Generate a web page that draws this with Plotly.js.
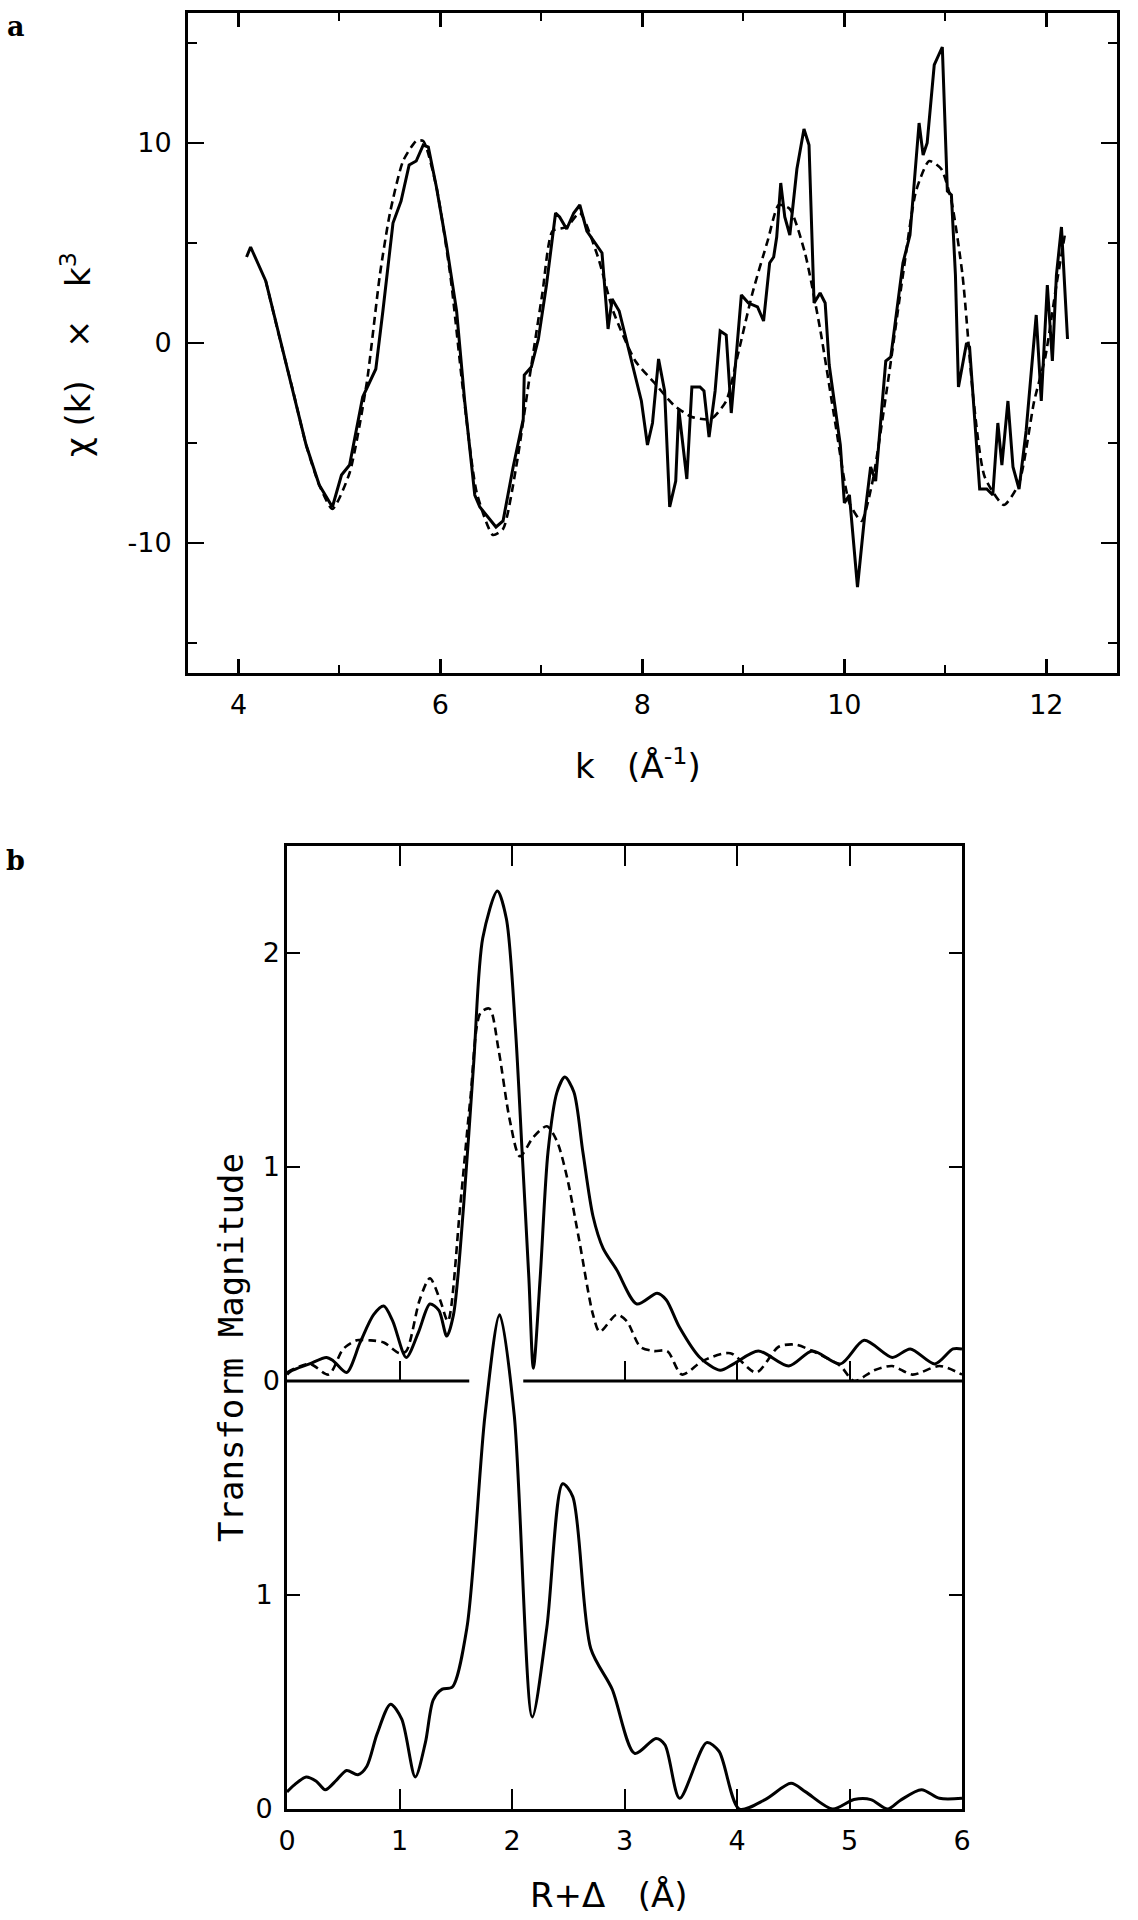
<!DOCTYPE html>
<html>
<head>
<meta charset="utf-8">
<script src="https://cdn.plot.ly/plotly-3.0.1.min.js"></script>
<style>
  html, body { margin: 0; padding: 0; background: #ffffff; }
  #chart { width: 1138px; height: 1920px; }
</style>
</head>
<body>
<div id="chart"></div>
<script>
// ---------- Panel a: chi(k) * k^3 ----------
const kExp = [4.08, 4.12, 4.27, 4.41, 4.54, 4.67, 4.80, 4.93, 5.02, 5.10, 5.23, 5.36, 5.43, 5.53, 5.61, 5.69, 5.76, 5.83, 5.88, 5.96,
  6.06, 6.16, 6.24, 6.34, 6.39, 6.55, 6.62, 6.72, 6.82, 6.83, 6.90, 6.97, 7.05, 7.14, 7.18, 7.25, 7.32, 7.38, 7.45, 7.55,
  7.60, 7.66, 7.70, 7.77, 7.88, 7.99, 8.05, 8.10, 8.16, 8.22, 8.27, 8.33, 8.36, 8.44, 8.49, 8.57, 8.61, 8.66, 8.72, 8.77,
  8.83, 8.88, 8.94, 8.98, 9.05, 9.14, 9.20, 9.26, 9.30, 9.33, 9.37, 9.41, 9.46, 9.53, 9.60, 9.65, 9.70, 9.76, 9.81, 9.85,
  9.96, 10.00, 10.05, 10.13, 10.20, 10.26, 10.31, 10.41, 10.46, 10.58, 10.65, 10.74, 10.78, 10.82, 10.89, 10.97, 11.02, 11.06, 11.10, 11.13,
  11.21, 11.24, 11.34, 11.41, 11.47, 11.52, 11.56, 11.62, 11.67, 11.73, 11.80, 11.90, 11.95, 12.01, 12.06, 12.10, 12.15, 12.21];
const chiExp = [4.3, 4.8, 3.1, 0.2, -2.4, -5.1, -7.1, -8.2, -6.6, -6.1, -2.7, -1.3, 1.6, 6.0, 7.1, 8.9, 9.1, 9.9, 9.8, 7.8,
  4.9, 1.6, -2.9, -7.6, -8.2, -9.2, -8.9, -6.2, -3.8, -1.6, -1.2, 0.2, 2.9, 6.5, 6.3, 5.7, 6.5, 6.9, 5.6, 4.9,
  4.5, 0.7, 2.2, 1.6, -0.7, -2.9, -5.1, -4.0, -0.8, -2.4, -8.2, -6.9, -3.3, -6.8, -2.2, -2.2, -2.4, -4.7, -2.4, 0.6,
  0.4, -3.5, 0.0, 2.4, 2.0, 1.8, 1.1, 4.0, 4.3, 5.3, 8.0, 6.3, 5.4, 8.7, 10.7, 9.9, 2.0, 2.5, 2.0, -1.1,
  -5.1, -8.0, -7.6, -12.2, -8.7, -6.2, -6.9, -0.9, -0.7, 4.0, 5.4, 11.0, 9.4, 10.0, 13.9, 14.8, 7.6, 7.4, 3.4, -2.2,
  0.0, -0.2, -7.3, -7.3, -7.6, -4.0, -6.1, -2.9, -6.2, -7.3, -4.4, 1.4, -2.9, 2.9, -0.9, 3.4, 5.8, 0.2];

const kFit = [4.27, 4.41, 4.54, 4.67, 4.80, 4.93, 5.10, 5.27, 5.40, 5.50, 5.63, 5.76, 5.83, 5.96, 6.10, 6.22, 6.36, 6.52, 6.62,
  6.75, 6.88, 7.01, 7.11, 7.25, 7.38, 7.56, 7.71, 7.93, 8.12, 8.31, 8.49, 8.68, 8.83, 8.94, 9.09, 9.24, 9.35, 9.46, 9.61,
  9.76, 9.91, 10.05, 10.17, 10.28, 10.43, 10.58, 10.71, 10.84, 10.96, 11.06, 11.17, 11.28, 11.39, 11.58, 11.73, 11.88, 11.99, 12.10, 12.19];
const chiFit = [3.1, 0.2, -2.4, -5.1, -7.1, -8.3, -6.5, -2.0, 3.4, 6.5, 9.1, 10.1, 10.1, 7.8, 3.3, -2.2, -7.5, -9.6, -9.3,
  -6.2, -1.8, 2.5, 5.6, 5.8, 6.5, 4.3, 1.6, -0.9, -2.0, -3.1, -3.7, -3.8, -2.9, -0.7, 2.5, 5.1, 6.9, 6.7, 4.5,
  0.7, -4.0, -8.0, -8.9, -6.9, -2.0, 3.4, 7.6, 9.1, 8.7, 7.1, 3.4, -2.9, -6.7, -8.1, -7.0, -2.9, -0.7, 2.9, 5.6];

// ---------- Panel b: Fourier transform magnitude ----------
// upper pair (solid = experiment, dashed = fit)
const rUp = [0.00, 0.03, 0.20, 0.35, 0.41, 0.53, 0.65, 0.77, 0.86, 0.94, 1.06, 1.17, 1.27, 1.35, 1.42, 1.48, 1.57, 1.66, 1.74, 1.87,
  1.95, 2.03, 2.09, 2.15, 2.19, 2.25, 2.32, 2.40, 2.47, 2.55, 2.63, 2.72, 2.81, 2.93, 3.11, 3.29, 3.37, 3.49, 3.67, 3.85,
  3.97, 4.19, 4.46, 4.67, 4.92, 5.13, 5.38, 5.54, 5.76, 5.92, 6.00];
const magUp = [0.03, 0.045, 0.08, 0.11, 0.095, 0.04, 0.18, 0.31, 0.35, 0.28, 0.11, 0.23, 0.36, 0.33, 0.21, 0.31, 0.82, 1.49, 2.07, 2.29,
  2.16, 1.65, 1.07, 0.48, 0.06, 0.48, 1.07, 1.35, 1.42, 1.35, 1.07, 0.77, 0.62, 0.52, 0.36, 0.41, 0.38, 0.25, 0.11, 0.05,
  0.08, 0.14, 0.07, 0.14, 0.08, 0.19, 0.11, 0.15, 0.08, 0.15, 0.15];
const rFitUp = [0.00, 0.20, 0.37, 0.50, 0.62, 0.74, 0.86, 1.00, 1.06, 1.18, 1.27, 1.36, 1.43, 1.54, 1.63, 1.72, 1.80, 1.88, 1.98, 2.07,
  2.19, 2.31, 2.40, 2.49, 2.60, 2.72, 2.78, 2.93, 3.02, 3.14, 3.26, 3.38, 3.51, 3.70, 3.94, 4.17, 4.37, 4.52, 4.67, 4.92,
  5.04, 5.22, 5.38, 5.56, 5.80, 6.00];
const magFitUp = [0.04, 0.08, 0.03, 0.15, 0.19, 0.19, 0.18, 0.13, 0.14, 0.38, 0.48, 0.38, 0.28, 0.82, 1.32, 1.72, 1.74, 1.55, 1.22, 1.05,
  1.14, 1.19, 1.12, 0.95, 0.65, 0.31, 0.23, 0.31, 0.28, 0.16, 0.14, 0.14, 0.03, 0.095, 0.13, 0.04, 0.16, 0.17, 0.14, 0.07,
  0.00, 0.05, 0.07, 0.03, 0.07, 0.03];
// lower curve
const rLow = [0.00, 0.06, 0.17, 0.26, 0.34, 0.44, 0.53, 0.63, 0.71, 0.80, 0.92, 1.02, 1.14, 1.23, 1.30, 1.38, 1.47, 1.60, 1.76, 1.89,
  2.02, 2.18, 2.31, 2.45, 2.54, 2.70, 2.89, 3.09, 3.28, 3.36, 3.49, 3.73, 3.84, 4.02, 4.25, 4.48, 4.61, 4.85, 5.04, 5.19,
  5.34, 5.45, 5.64, 5.80, 6.00];
const magLow = [0.08, 0.11, 0.15, 0.13, 0.09, 0.135, 0.18, 0.16, 0.20, 0.35, 0.49, 0.42, 0.15, 0.31, 0.51, 0.56, 0.57, 0.85, 1.84, 2.31,
  1.84, 0.43, 0.85, 1.52, 1.46, 0.75, 0.56, 0.26, 0.33, 0.30, 0.05, 0.31, 0.27, 0.00, 0.044, 0.12, 0.08, 0.00, 0.044, 0.044,
  0.00, 0.04, 0.09, 0.05, 0.05];

// tick labels / axis settings
const kTicks = [4, 6, 8, 10, 12];
const chiTicks = [-10, 0, 10];
const rTicks = [0, 1, 2, 3, 4, 5, 6];
const lowTicks = [0, 1];
const upTicks = [0, 1, 2];
const baselineTicks = [1, 3, 4, 5];
const baselineGap = [1.62, 2.10];   // break in the upper baseline where the lower peak passes

// ---------- layout geometry (pixels) ----------
const W = 1138, H = 1920;
const px = v => v / W;
const py = v => 1 - v / H;
const A = { l: 188, r: 1117, t: 13, b: 673 };
const B = { l: 287, r: 962, t: 846, b: 1809, mid: 1381 };

const FONT = 'DejaVu Sans, Arial, sans-serif';
const tickFont = { family: FONT, size: 27, color: '#000' };
const LW = 3;

const solid = { color: '#000', width: 3 };
const dashed = { color: '#000', width: 2.6, dash: '8px,5px' };

const traces = [
  { x: kExp, y: chiExp, xaxis: 'x', yaxis: 'y', mode: 'lines', line: solid, hoverinfo: 'skip' },
  { x: kFit, y: chiFit, xaxis: 'x', yaxis: 'y', mode: 'lines', line: Object.assign({ shape: 'spline', smoothing: 0.6 }, dashed), hoverinfo: 'skip' },
  { x: rLow, y: magLow, xaxis: 'x2', yaxis: 'y2', mode: 'lines', line: Object.assign({ shape: 'spline', smoothing: 0.8 }, solid), hoverinfo: 'skip' },
  { x: rUp, y: magUp, xaxis: 'x3', yaxis: 'y3', mode: 'lines', line: Object.assign({ shape: 'spline', smoothing: 0.8 }, solid), hoverinfo: 'skip' },
  { x: rFitUp, y: magFitUp, xaxis: 'x3', yaxis: 'y3', mode: 'lines', line: Object.assign({ shape: 'spline', smoothing: 0.8 }, dashed), hoverinfo: 'skip' }
];

const baseAxis = {
  showgrid: false, zeroline: false, showline: true, linewidth: LW, linecolor: '#000',
  ticks: 'inside', tickcolor: '#000', tickfont: tickFont, fixedrange: true
};

const ann = (text, x, y, size, extra) => Object.assign({
  text, xref: 'paper', yref: 'paper', x: px(x), y: py(y), xanchor: 'center', yanchor: 'middle',
  showarrow: false, font: { family: FONT, size, color: '#000' }
}, extra || {});

const layout = {
  width: W, height: H,
  margin: { l: 0, r: 0, t: 0, b: 0, pad: 0 },
  paper_bgcolor: '#fff', plot_bgcolor: 'rgba(0,0,0,0)',
  showlegend: false,
  xaxis: Object.assign({}, baseAxis, {
    domain: [px(A.l), px(A.r)], anchor: 'y', range: [3.5, 12.7],
    tickmode: 'array', tickvals: kTicks, ticklen: 14, tickwidth: 2.5, mirror: 'ticks',
    minor: { tickmode: 'linear', tick0: 0, dtick: 1, ticks: 'inside', ticklen: 8, tickwidth: 2, tickcolor: '#000' },
    ticklabelstandoff: 6
  }),
  yaxis: Object.assign({}, baseAxis, {
    domain: [py(A.b), py(A.t)], anchor: 'x', range: [-16.5, 16.5],
    tickmode: 'array', tickvals: chiTicks, ticktext: chiTicks.map(String), ticklen: 16, tickwidth: 2.5, mirror: 'ticks',
    minor: { tickmode: 'linear', tick0: 0, dtick: 5, ticks: 'inside', ticklen: 9, tickwidth: 2, tickcolor: '#000' },
    ticklabelstandoff: 8
  }),
  xaxis2: Object.assign({}, baseAxis, {
    domain: [px(B.l), px(B.r)], anchor: 'y2', range: [0, 6],
    tickmode: 'array', tickvals: rTicks, ticklen: 20, tickwidth: 2, mirror: 'ticks',
    ticklabelstandoff: 6
  }),
  yaxis2: Object.assign({}, baseAxis, {
    domain: [py(B.b), py(B.t)], anchor: 'x2', range: [0, 4.5],
    tickmode: 'array', tickvals: lowTicks, ticklen: 13, tickwidth: 2.5, mirror: 'ticks',
    ticklabelstandoff: 6
  }),
  xaxis3: Object.assign({}, baseAxis, {
    domain: [px(B.l), px(B.r)], anchor: 'y3', range: [0, 6], showline: false,
    tickmode: 'array', tickvals: baselineTicks, ticklen: 20, tickwidth: 2, showticklabels: false, mirror: false
  }),
  yaxis3: Object.assign({}, baseAxis, {
    domain: [py(B.mid), py(B.t)], anchor: 'x3', range: [0, 2.5], showline: false,
    tickmode: 'array', tickvals: upTicks, ticklen: 13, tickwidth: 2.5, mirror: 'ticks',
    ticklabelstandoff: 6
  }),
  // baseline of the upper transform (broken where the lower peak crosses it)
  shapes: [
    { type: 'line', xref: 'x3', yref: 'paper', x0: 0, x1: baselineGap[0], y0: py(B.mid), y1: py(B.mid), line: { color: '#000', width: LW } },
    { type: 'line', xref: 'x3', yref: 'paper', x0: baselineGap[1], x1: 6, y0: py(B.mid), y1: py(B.mid), line: { color: '#000', width: LW } }
  ],
  annotations: [
    ann('<b>a</b>', 16, 26, 27, { font: { family: 'DejaVu Serif, Liberation Serif, serif', size: 27, color: '#000' } }),
    ann('<b>b</b>', 16, 860, 27, { font: { family: 'DejaVu Serif, Liberation Serif, serif', size: 27, color: '#000' } }),
    ann('χ (k)   ×   k<sup>3</sup>', 76, 355, 34, { textangle: -90 }),
    ann('k   (Å<sup>-1</sup>)', 638, 764, 34),
    ann('Transform Magnitude', 231, 1348, 34, { textangle: -90, font: { family: 'DejaVu Sans Mono, Liberation Mono, monospace', size: 34, color: '#000' } }),
    ann('R+Δ   (Å)', 609, 1895, 34)
  ]
};

Plotly.newPlot('chart', traces, layout, { staticPlot: true, displayModeBar: false });
</script>
</body>
</html>
